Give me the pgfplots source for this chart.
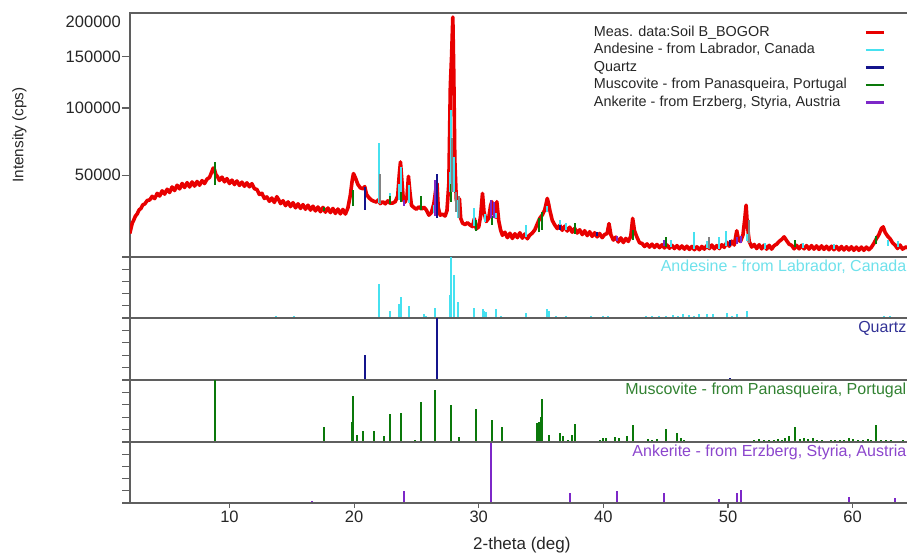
\documentclass[border=0pt]{standalone}
\usepackage{pgfplots}
\pgfplotsset{compat=1.18}
\usepackage{pgfplotstable}
\usepackage{fontspec}
\setmainfont{Liberation Sans}
\definecolor{measred}{RGB}{232,0,0}
\definecolor{andcyan}{RGB}{70,225,240}
\definecolor{qznavy}{RGB}{20,20,140}
\definecolor{muscgreen}{RGB}{10,120,10}
\definecolor{ankpurple}{RGB}{125,40,200}
\definecolor{axgray}{RGB}{95,95,95}
\definecolor{stickgray}{RGB}{130,130,130}
\definecolor{andlabel}{RGB}{110,225,235}
\definecolor{qzlabel}{RGB}{50,50,150}
\definecolor{muslabel}{RGB}{50,130,50}
\definecolor{anklabel}{RGB}{140,70,205}

\pgfplotstableread{
t I
2.0 20500
2.1 22600
2.2 24800
2.3 25900
2.45 27900
2.6 29000
2.75 30900
2.9 31600
3.05 33400
3.2 33800
3.4 35600
3.6 35900
3.8 37800
4.0 36600
4.2 39400
4.4 38000
4.6 40800
4.8 39000
5.0 41700
5.2 39900
5.4 43000
5.6 41000
5.8 44000
6.0 41900
6.2 45000
6.4 42700
6.6 45500
6.8 43000
7.0 45900
7.2 43500
7.4 46200
7.6 44000
7.8 46700
8.0 45000
8.2 47600
8.4 48600
8.55 51500
8.7 54500
8.8 53500
8.9 50500
9.05 49000
9.2 46800
9.4 48800
9.6 46000
9.8 47900
10.0 45000
10.2 47000
10.4 44400
10.6 46500
10.8 43900
11.0 45800
11.2 43400
11.4 45400
11.6 43100
11.8 44900
12.0 42000
12.2 41600
12.4 38800
12.6 39500
12.8 36700
13.0 37500
13.2 35200
13.4 36900
13.6 34600
13.8 37600
13.95 36000
14.1 34000
14.3 35500
14.5 33000
14.7 34900
14.9 32500
15.1 34500
15.3 31900
15.5 33900
15.7 31600
15.9 33500
16.1 31200
16.3 33200
16.5 30800
16.7 32700
16.9 30400
17.1 32300
17.3 30000
17.5 32100
17.7 29800
17.9 31800
18.1 29600
18.3 31600
18.5 29200
18.7 31300
18.9 29000
19.1 31100
19.3 28900
19.5 31800
19.7 38500
19.85 47000
19.95 51000
20.1 48500
20.3 44500
20.5 42500
20.7 42000
20.85 43200
21.0 38800
21.2 37000
21.4 35800
21.6 35200
21.8 34800
21.95 36000
22.1 34000
22.3 35000
22.5 33900
22.7 35400
22.9 34200
23.1 34300
23.3 35000
23.5 38000
23.62 50000
23.72 58500
23.82 48000
23.95 36000
24.1 34800
24.25 38000
24.36 49300
24.48 40000
24.6 33200
24.8 32000
25.0 31200
25.2 32400
25.4 31300
25.6 32200
25.8 30800
26.0 28400
26.2 29600
26.4 34000
26.55 41200
26.65 45000
26.75 32000
26.9 28400
27.1 28800
27.3 28000
27.45 30500
27.6 45000
27.72 120000
27.82 150000
27.92 195000
28.0 130000
28.08 60000
28.2 36000
28.3 34000
28.45 36500
28.55 27000
28.7 24800
28.9 24200
29.1 25000
29.3 24000
29.5 23300
29.65 26800
29.8 22400
30.0 23200
30.15 28000
30.3 39400
30.42 30000
30.6 25500
30.8 27000
30.95 33000
31.05 35000
31.2 29000
31.35 27500
31.45 35000
31.6 26000
31.75 22000
31.9 19800
32.1 21000
32.3 18900
32.5 20600
32.7 18600
32.9 20400
33.1 18900
33.3 20800
33.5 18700
33.7 20300
33.9 18500
34.1 19900
34.3 20700
34.5 22000
34.7 24500
34.9 27000
35.1 28500
35.3 31000
35.5 36700
35.6 34000
35.7 30800
35.9 26000
36.1 24000
36.3 22500
36.5 23900
36.7 21800
36.9 23500
37.1 21500
37.3 23100
37.5 21000
37.7 22600
37.9 20700
38.1 22000
38.3 20100
38.5 21600
38.7 19700
38.9 21200
39.1 19400
39.3 20800
39.5 19200
39.7 20500
39.9 18900
40.1 20100
40.3 20500
40.45 24600
40.6 20000
40.8 18000
41.0 19100
41.2 17300
41.4 18800
41.6 17100
41.8 18600
42.0 17500
42.2 19500
42.35 26900
42.5 21500
42.7 19000
42.9 17000
43.1 16800
43.3 15700
43.5 16600
43.7 15500
43.9 16500
44.1 15400
44.3 16400
44.5 15300
44.7 16300
44.9 15200
45.1 16200
45.3 15100
45.5 16100
45.7 15000
45.9 16000
46.1 14900
46.3 15900
46.5 14800
46.7 15800
46.9 14700
47.1 15700
47.3 14600
47.5 15600
47.7 14600
47.9 15700
48.1 14800
48.3 16000
48.5 15000
48.7 16200
48.9 14900
49.1 16000
49.3 15000
49.5 16300
49.7 15400
49.9 17200
50.1 15800
50.3 17600
50.5 16200
50.7 21600
50.85 18000
51.0 17500
51.2 20000
51.35 27000
51.45 33200
51.55 24000
51.7 17500
51.9 15500
52.1 16400
52.3 15000
52.5 16300
52.7 14900
52.9 16200
53.1 14800
53.3 16100
53.5 14800
53.7 16000
53.9 16500
54.1 17500
54.3 18200
54.5 19200
54.7 17800
54.9 16500
55.1 16100
55.3 14900
55.5 16100
55.7 14900
55.9 16100
56.1 14900
56.3 16000
56.5 14800
56.7 16000
56.9 14800
57.1 15900
57.3 14700
57.5 15900
57.7 14700
57.9 15800
58.1 14600
58.3 15800
58.5 14600
58.7 15700
58.9 14500
59.1 15700
59.3 14500
59.5 15600
59.7 14500
59.9 15600
60.1 14400
60.3 15500
60.5 14400
60.7 15500
60.9 14400
61.1 15500
61.3 14600
61.5 15400
61.7 16800
61.9 18500
62.1 20000
62.3 22500
62.45 23200
62.6 21000
62.8 19500
63.0 18500
63.2 17000
63.4 16200
63.6 15000
63.8 16200
64.0 14800
64.3 15600
64.5 15000
}\meas

% sticks drawn over the measured pattern (x, intensity; nan separates sticks)
\pgfplotstableread{
t I
21.97 34500
21.97 71600
nan nan
22.86 34500
22.86 39600
nan nan
23.6 36000
23.6 45000
nan nan
23.77 36000
23.77 55200
nan nan
24.38 34500
24.38 44000
nan nan
26.45 29600
26.45 33500
nan nan
27.68 40000
27.68 52000
nan nan
27.76 40000
27.76 98000
nan nan
28.02 40000
28.02 62000
nan nan
28.37 27000
28.37 36000
nan nan
29.6 23500
29.6 32000
nan nan
30.5 25500
30.5 29000
nan nan
31.4 27000
31.4 29500
nan nan
33.8 19000
33.8 24000
nan nan
35.5 30000
35.5 33000
nan nan
36.5 22500
36.5 26000
nan nan
37.0 22000
37.0 25000
nan nan
45.4 15500
45.4 18000
nan nan
47.25 15000
47.25 21000
nan nan
48.3 15200
48.3 17500
nan nan
49.25 15000
49.25 19000
nan nan
49.8 16000
49.8 21500
nan nan
51.5 17500
51.5 20500
nan nan
53.0 15000
53.0 17000
nan nan
56.0 15200
56.0 17000
nan nan
58.5 14800
58.5 16500
nan nan
62.8 16000
62.8 18000
nan nan
63.6 15500
63.6 17500
}\andmain

\pgfplotstableread{
t I
20.86 31000
20.86 43000
nan nan
26.65 27000
26.65 51000
nan nan
36.55 22000
36.55 23800
nan nan
39.47 19500
39.47 21000
nan nan
50.14 16000
50.14 18000
}\qzmain

\pgfplotstableread{
t I
8.8 44000
8.8 58300
nan nan
17.6 30500
17.6 32500
nan nan
19.94 33000
19.94 41000
nan nan
22.86 34000
22.86 38000
nan nan
23.8 35000
23.8 40000
nan nan
25.4 31000
25.4 38000
nan nan
26.5 29000
26.5 36000
nan nan
27.78 35000
27.78 45000
nan nan
29.8 21500
29.8 26000
nan nan
31.1 24000
31.1 28000
nan nan
34.8 21000
34.8 27000
nan nan
35.1 22000
35.1 30000
nan nan
37.75 20500
37.75 25000
nan nan
42.35 18000
42.35 22000
nan nan
45.0 15500
45.0 19000
nan nan
55.4 15500
55.4 18000
nan nan
61.9 16500
61.9 19500
}\musmain

\pgfplotstableread{
t I
24.0 33000
24.0 36000
nan nan
26.5 28000
26.5 47000
nan nan
31.0 27000
31.0 36000
nan nan
31.2 27000
31.2 35000
nan nan
41.1 17500
41.1 19500
nan nan
44.9 15800
44.9 18000
nan nan
50.7 16500
50.7 19000
nan nan
51.05 17000
51.05 19500
}\ankmain

\pgfplotstableread{
t I
22.1 34000
22.1 51000
nan nan
27.85 40000
27.85 75300
nan nan
28.2 30000
28.2 40000
nan nan
28.45 27000
28.45 38000
nan nan
48.45 15000
48.45 19000
nan nan
51.66 17000
51.66 26000
}\greymain

% reference patterns (x, relative intensity %)
\pgfplotstableread{
t r
13.7 3
14.0 2
15.2 3
15.6 2
18.9 1
21.97 56
22.86 11
23.6 23
23.77 34
24.38 20
25.6 7
25.8 3
26.45 17
27.68 37
27.76 100
28.02 71
28.37 26
29.6 16
30.33 14
30.45 12
30.6 10
31.4 14
31.77 3
33.8 9
35.45 15
35.6 12
36.2 3
36.6 2
37.0 3
37.5 2
38.0 2
38.6 2
39.0 3
39.6 2
40.0 3
40.4 3
40.8 2
42.3 2
42.9 2
43.4 3
43.9 3
44.5 4
45.0 3
45.6 5
46.0 4
46.4 6
46.9 5
47.3 3
47.7 6
48.3 6
48.8 6
49.3 2
49.9 9
50.3 3
50.7 7
51.2 2
51.5 12
51.9 2
52.3 2
52.7 2
53.7 1
54.2 2
54.6 2
55.2 2
55.8 2
56.3 2
56.8 2
57.2 2
57.7 2
58.2 2
58.6 2
59.1 2
59.5 2
60.0 2
60.5 2
61.0 2
61.5 2
62.0 2
62.5 3
63.0 3
63.5 2
64.0 2
}\andstk

\pgfplotstableread{
t r
20.86 40
26.64 100
36.54 1.5
39.46 2
40.29 1.5
42.45 2
45.79 1.5
50.14 2.5
50.6 1.5
54.87 1.5
55.3 1.5
59.95 2
60.1 1.5
64.0 2
}\qzstk

\pgfplotstableread{
t r
8.8 100
17.6 25
19.8 32
19.94 74
20.2 11
20.7 18
21.0 2
21.6 18
22.43 10
22.86 45
23.8 47
24.87 4
25.4 64
26.5 84
27.78 59
28.4 8
29.8 54
31.1 36
31.85 25
33.3 2
34.65 30
34.75 31
34.85 32
35.0 40
35.1 70
35.6 12
36.5 15
36.75 10
37.2 4
37.5 12
37.75 29
38.1 2
38.5 1
39.3 1
39.7 3
40.0 7
40.2 7
40.9 8
41.25 7
41.9 10
42.35 27
43.6 5
43.9 4
44.3 5
45.0 21
45.9 15
46.2 6
46.5 3
47.2 2
47.6 2
48.0 2
48.4 2
48.8 2
51.6 2
52.1 3
52.5 5
52.9 3
53.3 4
53.7 3
54.0 5
54.3 3
54.6 6
54.9 10
55.4 25
55.8 5
56.1 6
56.4 5
56.8 6
57.1 4
57.5 3
57.9 2
58.3 3
58.6 4
59.0 3
59.3 4
59.7 6
60.0 5
60.4 4
60.8 3
61.2 5
61.5 4
61.9 28
62.3 3
62.7 4
63.1 3
63.5 2
64.0 3
}\musstk

\pgfplotstableread{
t r
16.6 3
22.0 1
24.0 20
31.0 100
33.65 2
37.35 17
41.1 20
44.9 17
49.25 7
50.7 17
51.05 22
52.3 1.5
58.85 2
59.7 10
62.2 2
63.4 8
}\ankstk

\pgfplotsset{
  panel/.style={
    scale only axis, width=779pt,
    xmin=2.02, xmax=64.52,
    axis line style={axgray, line width=1.2pt},
    tick style={axgray, line width=1.1pt},
    tick align=outside, major tick length=8pt,
    tick pos=left,
    /pgf/number format/assume math mode=true,
    ticklabel style={font=\fontsize{16.5}{19}\selectfont, inner sep=1pt, text=black!85},
    anchor=south west,
  },
  stick/.style={panel, height=#1, ymin=0, ymax=100,
    ytick={0,20,40,60,80,100}, yticklabels={}, xtick=\empty},
}
\tikzset{
  plabel/.style={anchor=north east, inner sep=0pt, font=\fontsize{16}{19}\selectfont,
    xshift=-2.5pt, yshift=-3pt},
}

\begin{document}
\begin{tikzpicture}
\useasboundingbox (0pt,0pt) rectangle (907pt,552pt);

% main panel
\begin{axis}[panel, at={(130pt,295pt)}, height=244pt,
  ymin=110.8, ymax=447.214, xtick=\empty,
  ytick={223.607,316.228,387.298}, yticklabels={50000,100000,150000},
  extra y ticks={447.214}, extra y tick labels={200000},
  extra y tick style={tick style={draw=none}, yticklabel style={yshift=-9pt}},
  ylabel={Intensity (cps)},
  ylabel style={at={(axis description cs:-0.142,0.5)}, anchor=center,
    font=\fontsize{15.3}{18}\selectfont, text=black!85},
  unbounded coords=jump,
  legend style={at={(axis description cs:0.594,0.953)}, anchor=north west,
    draw=none, fill=none, inner sep=0pt,
    font=\fontsize{14.4}{17}\selectfont,
    nodes={inner sep=1pt, text height=10.5pt, text depth=3pt, text=black!85},
    row sep=2pt, column sep=17pt},
  legend cell align=left, legend plot pos=right,
  legend image code/.code={\draw[#1, line width=2.2pt] (0pt,0pt) -- (18pt,0pt);},
]
\addplot[measred, line width=3.6pt, line join=round] table[x=t, y expr={sqrt(\thisrow{I})}] {\meas};
\addlegendentry{Meas. data:Soil B\_BOGOR}
\addplot[andcyan, line width=2pt] table[x=t, y expr={sqrt(\thisrow{I})}] {\andmain};
\addlegendentry{Andesine - from Labrador, Canada}
\addplot[qznavy, line width=2pt] table[x=t, y expr={sqrt(\thisrow{I})}] {\qzmain};
\addlegendentry{Quartz}
\addplot[muscgreen, line width=2pt] table[x=t, y expr={sqrt(\thisrow{I})}] {\musmain};
\addlegendentry{Muscovite - from Panasqueira, Portugal}
\addplot[ankpurple, line width=2pt] table[x=t, y expr={sqrt(\thisrow{I})}] {\ankmain};
\addlegendentry{Ankerite - from Erzberg, Styria, Austria}
\addplot[stickgray, line width=2pt, forget plot] table[x=t, y expr={sqrt(\thisrow{I})}] {\greymain};
\end{axis}

% Andesine
\begin{axis}[stick=61pt, at={(130pt,234pt)}]
\addplot[ycomb, andcyan, line width=2pt] table[x=t, y=r] {\andstk};
\node[plabel, text=andlabel] at (rel axis cs:1,1) {Andesine - from Labrador, Canada};
\end{axis}

% Quartz
\begin{axis}[stick=62pt, at={(130pt,172pt)}]
\addplot[ycomb, qznavy, line width=2pt] table[x=t, y=r] {\qzstk};
\node[plabel, text=qzlabel] at (rel axis cs:1,1) {Quartz};
\end{axis}

% Muscovite
\begin{axis}[stick=62pt, at={(130pt,110pt)}]
\addplot[ycomb, muscgreen, line width=2pt] table[x=t, y=r] {\musstk};
\node[plabel, text=muslabel] at (rel axis cs:1,1) {Muscovite - from Panasqueira, Portugal};
\end{axis}

% Ankerite
\begin{axis}[stick=61pt, at={(130pt,49pt)}]
\addplot[ycomb, ankpurple, line width=2pt] table[x=t, y=r] {\ankstk};
\node[plabel, text=anklabel] at (rel axis cs:1,1) {Ankerite - from Erzberg, Styria, Austria};
\end{axis}

% x axis ticks and label
\begin{axis}[panel, at={(130pt,49pt)}, height=61pt, ymin=0, ymax=1, ytick=\empty,
  major tick length=5pt, xtick={10,20,30,40,50,60},
  xlabel={2-theta (deg)},
  xlabel style={at={(axis description cs:0.503,0)}, anchor=center, yshift=-42pt,
    font=\fontsize{17}{20}\selectfont, text=black!85},
  xticklabel style={yshift=-2pt}]
\end{axis}
\end{tikzpicture}
\end{document}
